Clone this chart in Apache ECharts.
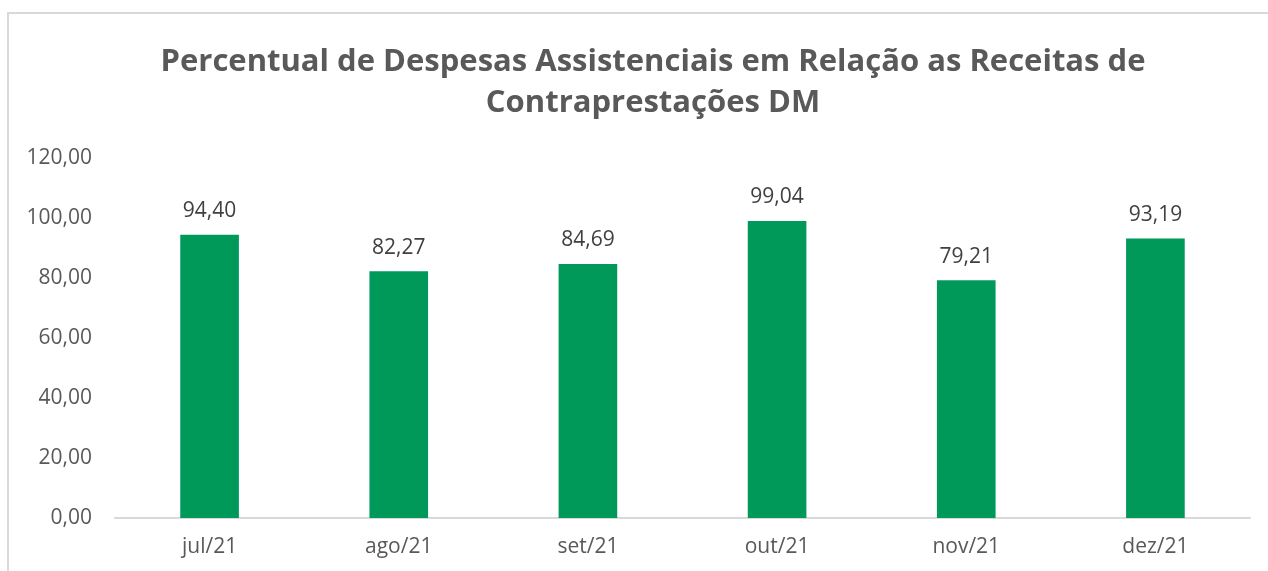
<!DOCTYPE html>
<html>
<head>
<meta charset="utf-8">
<script src="https://cdn.jsdelivr.net/npm/echarts@6/dist/echarts.min.js"></script>
<style>
html,body{margin:0;padding:0;background:#fff;}
#c{width:1268px;height:571px;}
</style>
</head>
<body>
<div id="c"></div>
<script>
const categories = ['jul/21','ago/21','set/21','out/21','nov/21','dez/21'];
const values = [94.40, 82.27, 84.69, 99.04, 79.21, 93.19];
const titleText = 'Percentual de Despesas Assistenciais em Relação as Receitas de\nContraprestações DM';

const fmt = v => v.toFixed(2).replace('.', ',');
const chart = echarts.init(document.getElementById('c'), null, {renderer:'canvas'});
chart.setOption({
  animation:false,
  backgroundColor:'#ffffff',
  graphic:[{
    type:'rect', shape:{x:8,y:13,width:1300,height:600},
    style:{fill:'none', stroke:'#d9d9d9', lineWidth:2}, silent:true, z:-1
  }],
  title:{
    text:titleText,
    left:648, textAlign:'center', top:37,
    textStyle:{fontFamily:'Open Sans', fontWeight:'bold', fontSize:31, color:'#595959', lineHeight:41}
  },
  grid:{left:115, right:18, top:158, bottom:53, containLabel:false},
  xAxis:{
    type:'category', data:categories,
    axisLine:{lineStyle:{color:'#d9d9d9', width:2}},
    axisTick:{show:false},
    axisLabel:{color:'#595959', fontFamily:'Open Sans', fontSize:21, margin:19}
  },
  yAxis:{
    type:'value', min:0, max:120, interval:20,
    axisLine:{show:false}, axisTick:{show:false},
    splitLine:{show:false},
    axisLabel:{color:'#595959', fontFamily:'Open Sans', fontSize:21, margin:23, formatter:v=>fmt(v)}
  },
  series:[{
    type:'bar', data:values, barWidth:'31%',
    itemStyle:{color:'#00995A'},
    label:{show:true, position:'top', distance:13, color:'#404040', fontFamily:'Open Sans', fontSize:21, formatter:p=>fmt(p.value)}
  }]
});
</script>
</body>
</html>
